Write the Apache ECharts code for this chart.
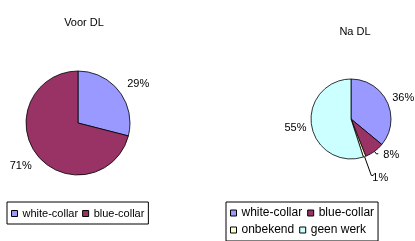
<!DOCTYPE html>
<html>
<head>
<meta charset="utf-8">
<script src="https://cdn.jsdelivr.net/npm/echarts@6/dist/echarts.min.js"></script>
<style>
  html, body { margin: 0; padding: 0; background: #fff; }
  #chart { width: 415px; height: 241px; }
</style>
</head>
<body>
<div id="chart"></div>
<script>
const categories = ['white-collar', 'blue-collar', 'onbekend', 'geen werk']
const colors = ['#9999FF', '#993366', '#FFFFCC', '#CCFFFF']
const voorValues = [29, 71]
const naValues = [36, 8, 1, 55]

const font = 'Liberation Sans, Arial, sans-serif'

// label line per slice: [length, length2, shown]
const voorLines = [[4, 0, false], [4, 0, false]]
const naLines = [[0, 0, false], [3, 2, true], [20, 2, true], [0, 0, false]]
// small nudges so labels sit where Excel put them
const voorNudge = [[0, -5], [3, 9]]
const naNudge = [[0, -4], [0, 1], [-6, 3], [0, 3]]

function pieData(values, lines) {
  return values.map((v, i) => ({
    name: categories[i],
    value: v,
    itemStyle: { color: colors[i] },
    labelLine: { show: lines[i][2], length: lines[i][0], length2: lines[i][1] }
  }))
}

function nudge(table) {
  return params => {
    const d = table[params.dataIndex]
    return { dx: d[0], dy: d[1], hideOverlap: false }
  }
}

const labelStyle = { formatter: '{c}%', fontFamily: font, fontSize: 11, color: '#000' }

const chart = echarts.init(document.getElementById('chart'))
chart.setOption({
  animation: false,
  title: [
    { text: 'Voor DL', left: 79, top: 12, textAlign: 'center',
      textStyle: { fontFamily: font, fontSize: 11, fontWeight: 'normal', color: '#000' } },
    { text: 'Na DL', left: 350, top: 21, textAlign: 'center',
      textStyle: { fontFamily: font, fontSize: 11, fontWeight: 'normal', color: '#000' } }
  ],
  legend: [
    {
      data: categories.slice(0, 2),
      left: 7, top: 202,
      padding: [6, 4, 5, 4],
      itemGap: 4,
      itemWidth: 6, itemHeight: 6,
      icon: 'rect',
      borderColor: '#000', borderWidth: 1,
      selectedMode: false,
      itemStyle: { borderColor: '#000', borderWidth: 1 },
      textStyle: { fontFamily: font, fontSize: 11, color: '#000' }
    },
    {
      data: categories,
      left: 226, top: 202,
      width: 152,
      padding: [5, 4],
      itemGap: 5,
      itemWidth: 6, itemHeight: 6,
      icon: 'rect',
      borderColor: '#000', borderWidth: 1,
      selectedMode: false,
      itemStyle: { borderColor: '#000', borderWidth: 1 },
      textStyle: { fontFamily: font, fontSize: 12, color: '#000', width: 63 }
    }
  ],
  series: [
    {
      type: 'pie',
      center: [78, 123],
      radius: 52,
      startAngle: 90,
      clockwise: true,
      avoidLabelOverlap: false,
      itemStyle: { borderColor: '#000', borderWidth: 0.8 },
      label: labelStyle,
      labelLayout: nudge(voorNudge),
      emphasis: { disabled: true },
      data: pieData(voorValues, voorLines)
    },
    {
      type: 'pie',
      center: [351, 119],
      radius: 40,
      startAngle: 90,
      clockwise: true,
      avoidLabelOverlap: false,
      itemStyle: { borderColor: '#000', borderWidth: 0.8 },
      label: labelStyle,
      labelLine: { lineStyle: { color: '#000', width: 1 } },
      labelLayout: nudge(naNudge),
      emphasis: { disabled: true },
      data: pieData(naValues, naLines)
    }
  ]
})
</script>
</body>
</html>
